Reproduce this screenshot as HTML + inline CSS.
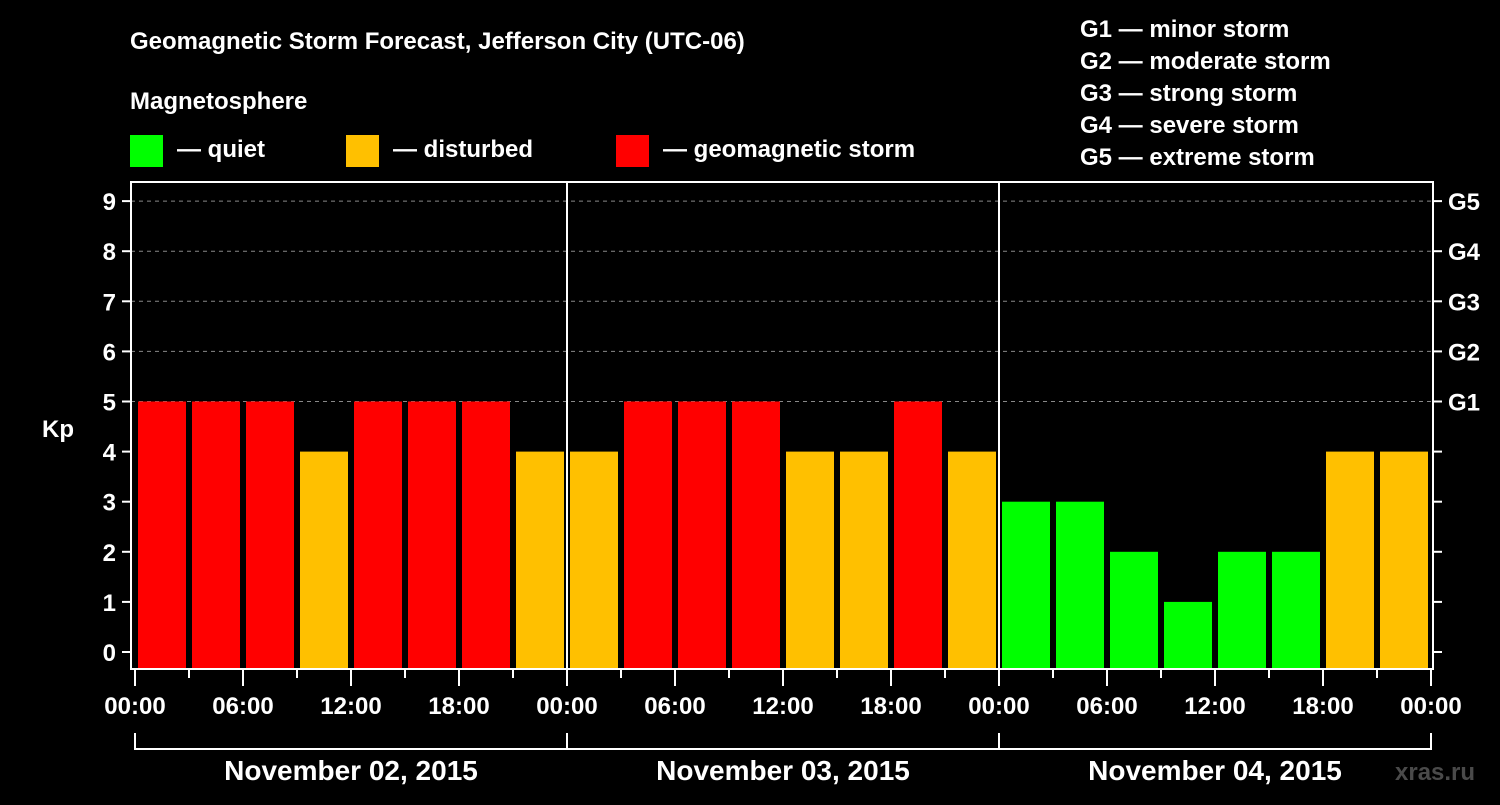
<!DOCTYPE html>
<html><head><meta charset="utf-8"><style>
body{margin:0;background:#000;width:1500px;height:800px;overflow:hidden}
svg text{font-family:"Liberation Sans",Arial,sans-serif;font-weight:bold;fill:#fff}
</style></head><body>
<svg id="c" width="1500" height="800">
<text x="130" y="49" font-size="24">Geomagnetic Storm Forecast, Jefferson City (UTC-06)</text>
<text x="130" y="109" font-size="24">Magnetosphere</text>
<g>
<rect x="130" y="135" width="33" height="32" fill="#00ff00"/>
<text x="177" y="157" font-size="24">— quiet</text>
<rect x="346" y="135" width="33" height="32" fill="#ffc000"/>
<text x="393" y="157" font-size="24">— disturbed</text>
<rect x="616" y="135" width="33" height="32" fill="#ff0000"/>
<text x="663" y="157" font-size="24">— geomagnetic storm</text>
</g>
<g font-size="24">
<text x="1080" y="37">G1 — minor storm</text>
<text x="1080" y="69">G2 — moderate storm</text>
<text x="1080" y="101">G3 — strong storm</text>
<text x="1080" y="133">G4 — severe storm</text>
<text x="1080" y="165">G5 — extreme storm</text>
</g>
<text x="42" y="437" font-size="24">Kp</text>
<text x="1395" y="780" font-size="24" fill="#555" style="fill:#4a4a4a">xras.ru</text>
<g id="plot"></g>
</svg>
<script>
const kpValues=[5,5,5,4,5,5,5,4, 4,5,5,5,4,4,5,4, 3,3,2,1,2,2,4,4];
const dayLabels=["November 02, 2015","November 03, 2015","November 04, 2015"];
const yTicks=[0,1,2,3,4,5,6,7,8,9];
const gLabels=["G1","G2","G3","G4","G5"];
const timeLabels=["00:00","06:00","12:00","18:00"];
const NS="http://www.w3.org/2000/svg";
const g=document.getElementById('plot');
const X0=135,SLOT=54,Y0=652,UNIT=50.1;
const xs=i=>X0+i*SLOT;
const ys=v=>Y0-v*UNIT;
function el(t,a){const e=document.createElementNS(NS,t);for(const k in a)e.setAttribute(k,a[k]);g.appendChild(e);return e;}
// grid
for(let v=5;v<=9;v++){const l=el('line',{x1:131,x2:1433,y1:ys(v),y2:ys(v),stroke:'#888','stroke-dasharray':'4,4','stroke-width':1});

}
// bars
kpValues.forEach((v,i)=>{const c=v>=5?'#ff0000':v>=4?'#ffc000':'#00ff00';
const r=el('rect',{x:xs(i)+3,y:ys(v),width:48,height:669-ys(v),fill:c});

});
// frame
const f=el('rect',{x:131,y:182,width:1302,height:487,fill:'none',stroke:'#fff','stroke-width':2});


// day separators
for(let d=1;d<dayLabels.length;d++){const l=el('line',{x1:xs(d*8),x2:xs(d*8),y1:182,y2:669,stroke:'#fff','stroke-width':2});

}
// y ticks
yTicks.forEach(v=>{const y=ys(v);
el('line',{x1:122,x2:131,y1:y,y2:y,stroke:'#fff','stroke-width':2});
el('line',{x1:1433,x2:1442,y1:y,y2:y,stroke:'#fff','stroke-width':2});
const t=el('text',{x:116,y:y+9,'font-size':24,'text-anchor':'end'});t.textContent=v;

});
gLabels.forEach((s,i)=>{const t=el('text',{x:1448,y:ys(5+i)+9,'font-size':24});t.textContent=s;

});
// x ticks
for(let i=0;i<=kpValues.length;i++){const x=xs(i);const long=i%2==0;
el('line',{x1:x,x2:x,y1:669,y2:long?686:678,stroke:'#fff','stroke-width':2});
if(long){const t=el('text',{x:x,y:714,'font-size':24,'text-anchor':'middle'});t.textContent=timeLabels[(i/2)%4];

}}
// day brackets
dayLabels.forEach((s,d)=>{const a=xs(d*8),b=xs(d*8+8);
el('path',{d:`M${a} 733V749H${b}V733`,fill:'none',stroke:'#fff','stroke-width':2});
const t=el('text',{x:(a+b)/2,y:780,'font-size':28,'text-anchor':'middle'});t.textContent=s;

});
</script>
</body></html>
